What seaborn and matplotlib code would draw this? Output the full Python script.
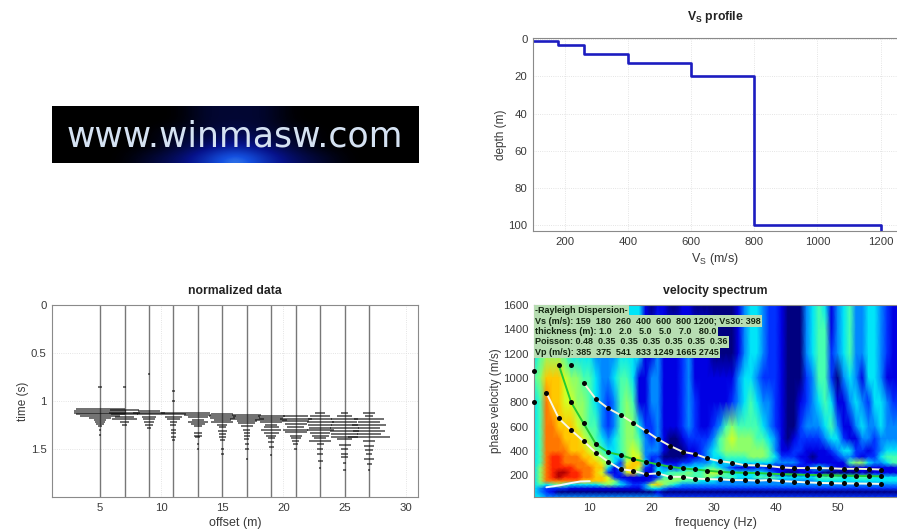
import numpy as np
import matplotlib
matplotlib.use("Agg")
import matplotlib.pyplot as plt
import seaborn as sns

# Vs profile
step_vs = [100, 180, 180, 260, 260, 400, 400, 600, 600, 800, 800, 1200, 1200]
step_depth = [1, 1, 3, 3, 8, 8, 13, 13, 20, 20, 100, 100, 103]

# seismic traces: offset, event times, event half amplitude
offsets = [5, 7, 9, 11, 13, 15, 17, 19, 21, 23, 25, 27]
trace_times = [
    [0.85, 1.08, 1.10, 1.12, 1.14, 1.16, 1.18, 1.20, 1.22, 1.24, 1.26, 1.30, 1.35],
    [0.85, 1.09, 1.12, 1.14, 1.17, 1.19, 1.22, 1.25],
    [0.72, 1.10, 1.12, 1.14, 1.17, 1.19, 1.22, 1.25, 1.28],
    [0.90, 1.00, 1.12, 1.14, 1.17, 1.19, 1.22, 1.25, 1.30, 1.33, 1.37, 1.41],
    [1.13, 1.15, 1.17, 1.20, 1.22, 1.24, 1.26, 1.33, 1.36, 1.38, 1.45, 1.50],
    [1.14, 1.16, 1.18, 1.20, 1.22, 1.25, 1.27, 1.31, 1.34, 1.37, 1.41, 1.50, 1.55],
    [1.15, 1.17, 1.19, 1.21, 1.23, 1.26, 1.30, 1.33, 1.36, 1.40, 1.45, 1.50, 1.60],
    [1.16, 1.18, 1.20, 1.22, 1.25, 1.27, 1.30, 1.33, 1.36, 1.39, 1.43, 1.48, 1.56],
    [1.16, 1.19, 1.21, 1.24, 1.27, 1.30, 1.32, 1.36, 1.39, 1.42, 1.45, 1.50],
    [1.13, 1.16, 1.19, 1.22, 1.25, 1.28, 1.30, 1.33, 1.36, 1.39, 1.42, 1.45, 1.50, 1.55, 1.62, 1.70],
    [1.13, 1.16, 1.19, 1.22, 1.25, 1.28, 1.31, 1.34, 1.37, 1.40, 1.46, 1.50, 1.55, 1.58, 1.65, 1.72],
    [1.13, 1.16, 1.19, 1.22, 1.25, 1.28, 1.31, 1.34, 1.38, 1.42, 1.47, 1.51, 1.55, 1.60, 1.66, 1.72],
]
trace_amps = [
    [0.15, 2.0, 2.1, 2.1, 2.0, 1.6, 0.9, 0.5, 0.4, 0.3, 0.15, 0.1, 0.08],
    [0.1, 1.2, 1.3, 1.1, 0.8, 1.0, 0.35, 0.2],
    [0.1, 0.9, 1.3, 1.0, 0.6, 0.5, 0.4, 0.35, 0.2],
    [0.1, 0.1, 1.0, 1.0, 0.7, 0.5, 0.3, 0.25, 0.2, 0.2, 0.2, 0.15],
    [1.0, 1.1, 0.8, 0.5, 0.8, 0.6, 0.3, 0.3, 0.35, 0.2, 0.1, 0.1],
    [0.9, 1.1, 1.0, 0.7, 0.9, 0.4, 0.3, 0.35, 0.3, 0.3, 0.2, 0.1, 0.1],
    [1.2, 1.1, 1.4, 0.8, 0.7, 0.5, 0.3, 0.25, 0.25, 0.2, 0.15, 0.15, 0.1],
    [1.1, 1.0, 1.3, 0.9, 0.5, 0.6, 0.8, 0.6, 0.4, 0.3, 0.25, 0.2, 0.1],
    [1.0, 1.3, 1.1, 0.9, 0.7, 1.0, 0.9, 0.5, 0.4, 0.3, 0.2, 0.1],
    [0.4, 0.8, 1.0, 1.1, 1.0, 0.9, 1.1, 0.8, 0.7, 0.5, 0.9, 0.3, 0.25, 0.25, 0.2, 0.1],
    [0.3, 0.6, 1.1, 1.0, 1.1, 1.2, 1.2, 1.1, 1.1, 0.6, 0.5, 0.3, 0.3, 0.3, 0.15, 0.1],
    [0.5, 0.3, 1.2, 0.9, 1.4, 0.9, 1.3, 1.0, 1.7, 0.5, 0.4, 0.3, 0.25, 0.4, 0.2, 0.1],
]

# velocity spectrum, read as jet levels 0-b, columns are 1 Hz apart
spec_velocity = [1600, 1400, 1200, 1000, 800, 600, 500, 400, 350, 300, 260, 220, 180, 150, 120, 90, 60, 20]
spec_rows = [
    "4455554444 3333444410 1100110000 0001344322 1000345413 4533443211",
    "4455554444 3333444411 2111111110 0001344322 1000345513 4533443211",
    "4566654444 3333444411 3111231110 0001344322 1000345523 4533443211",
    "5688876655 4334554113 3111231111 1113443222 1000235520 3431443111",
    "4598877665 4323565113 3111232111 1123454332 1001234541 1343244322",
    "4599888765 5323566422 3111232112 3565555432 1002333453 1134334333",
    "4599988876 5434566532 3100122223 5676665543 1012222344 2113323333",
    "4599998887 6544567633 3100011234 5666666653 1122111123 4422123444",
    "459aa99988 7654467732 2000011234 4555566654 2221101112 3321224555",
    "459aa99998 8764278841 3111223334 3444444443 3332111111 1566433455",
    "469aaaa999 8841388721 4332444455 4321112211 1111234321 1111111112",
    "469abbaa99 8721278511 4455565567 7544444432 1001111000 0001011111",
    "469abaaa99 8872111111 2556655565 4554445555 4444445555 4455544444",
    "4699999988 8876321112 6666555444 3333333333 3333334444 4444444444",
    "4545654444 4565432237 8654333333 3333333333 3333333333 3333333333",
    "4322221111 1111111134 4322222222 2222222222 2222222222 2222222222",
    "4321000000 0000000000 1000000000 0000000000 0000000000 0000000000",
    "4433333333 3333333333 3222222222 2222222222 2222222222 2222222222",
]

# picked points on the three modes
mode_a_freq = [1, 7, 9, 11, 13, 15, 17, 19, 21, 23, 25, 27, 29, 31, 33, 35, 37, 39, 41, 43, 45, 47, 49, 51, 53, 55, 57]
mode_a_vel = [1059, 1106, 960, 826, 749, 694, 631, 565, 497, 440, 392, 373, 337, 315, 302, 282, 280, 274, 263, 258, 258, 258, 256, 252, 252, 250, 246]
mode_b_freq = [5, 7, 9, 11, 13, 15, 17, 19, 21, 23, 25, 27, 29, 31, 33, 35, 37, 39, 41, 43, 45, 47, 49, 51, 53, 55, 57]
mode_b_vel = [1106, 799, 626, 455, 387, 365, 332, 310, 288, 269, 255, 247, 236, 227, 222, 219, 217, 212, 208, 205, 202, 200, 198, 196, 194, 192, 190]
mode_c_freq = [1, 3, 5, 7, 9, 11, 13, 15, 17, 19, 21, 23, 25, 27, 29, 31, 33, 35, 37, 39, 41, 43, 45, 47, 49, 51, 53, 55, 57]
mode_c_vel = [804, 878, 667, 570, 480, 384, 310, 249, 236, 208, 214, 186, 186, 172, 167, 165, 159, 159, 155, 159, 150, 146, 140, 136, 134, 132, 131, 130, 128]
fund_freq = [3, 5, 7, 8.5, 10]
fund_vel = [100, 115, 135, 148, 150]

info_lines = [
    "-Rayleigh Dispersion-",
    "Vs (m/s): 159  180  260  400  600  800 1200; Vs30: 398",
    "thickness (m): 1.0   2.0   5.0   5.0   7.0   80.0",
    "Poisson: 0.48  0.35  0.35  0.35  0.35  0.35  0.36",
    "Vp (m/s): 385  375  541  833 1249 1665 2745",
]

# glow at the bottom of the banner
logo_glow = [
    [0, 0, 0, 0, 0, 1, 1, 1, 0, 0, 0, 0, 0],
    [0, 0, 0, 0, 0, 1, 1, 1, 0, 0, 0, 0, 0],
    [0, 0, 0, 0, 1, 1, 2, 1, 1, 0, 0, 0, 0],
    [0, 0, 0, 0, 1, 2, 3, 2, 1, 0, 0, 0, 0],
    [0, 0, 0, 1, 2, 4, 7, 4, 2, 1, 0, 0, 0],
]

sns.set_theme(style="whitegrid")
plt.rcParams["font.family"] = ["Liberation Sans", "DejaVu Sans"]
plt.rcParams["mathtext.fontset"] = "custom"
plt.rcParams["mathtext.rm"] = "Liberation Sans"
plt.rcParams["mathtext.bf"] = "Liberation Sans:bold"

W, H = 897, 531
TEXT = "#3a3a3a"
GRID = "#dcdcdc"
SPINE = "#8a8a8a"


def px_axes(fig, left, top, right, bottom):
    return fig.add_axes([left / W, 1 - bottom / H, (right - left) / W, (bottom - top) / H])


def style(ax, title, xlabel, ylabel, title_pad, grid=True):
    ax.set_title(title, fontsize=8.8, fontweight="bold", color="#222222", pad=title_pad)
    ax.set_xlabel(xlabel, fontsize=9, color=TEXT, labelpad=3)
    ax.set_ylabel(ylabel, fontsize=8.5, color=TEXT, labelpad=1)
    ax.tick_params(labelsize=8.2, labelcolor=TEXT, length=2, width=0.6, color=SPINE, direction="in", pad=4)
    ax.grid(grid, color=GRID, lw=0.6, ls=":" if grid else "-")
    for s in ax.spines.values():
        s.set_color(SPINE)
        s.set_linewidth(0.8)


fig = plt.figure(figsize=(W / 100, H / 100), dpi=100, facecolor="white")

# banner
ax_logo = px_axes(fig, 52, 106, 418, 163)
ax_logo.imshow(logo_glow, cmap=sns.blend_palette(["#000000", "#06128a", "#1450e0", "#7fd8ff"], as_cmap=True),
               aspect="auto", interpolation="bicubic", vmin=0, vmax=8)
ax_logo.grid(False)
ax_logo.set_xticks([])
ax_logo.set_yticks([])
for s in ax_logo.spines.values():
    s.set_visible(False)
ax_logo.text(0.5, 0.47, "www.winmasw.com", transform=ax_logo.transAxes, ha="center", va="center",
             fontsize=25, family="DejaVu Sans", color="#d5e2f2")

# Vs profile
ax_vs = px_axes(fig, 533, 38, 897, 231)
sns.lineplot(x=step_vs, y=step_depth, sort=False, estimator=None, color="#1c1cc0", lw=1.9, ax=ax_vs)
ax_vs.set_xlim(100, 1252)
ax_vs.set_ylim(103, -0.5)
ax_vs.set_xticks([200, 400, 600, 800, 1000, 1200])
ax_vs.set_yticks([0, 20, 40, 60, 80, 100])
style(ax_vs, r"$\mathbf{V_S}$ profile", r"V$_{\mathrm{S}}$ (m/s)", "depth (m)", 13)
ax_vs.spines["right"].set_visible(False)

# normalized data
ax_tr = px_axes(fig, 52, 305, 418, 497)
for off, t, a in zip(offsets, trace_times, trace_amps):
    ax_tr.axvline(off, color="#777777", lw=1.0, zorder=2)
    ax_tr.hlines(t, off - np.array(a), off + np.array(a), color="#111111", lw=1.3, alpha=0.65, zorder=3)
ax_tr.set_xlim(1.07, 31)
ax_tr.set_ylim(2, 0)
ax_tr.set_xticks([5, 10, 15, 20, 25, 30])
ax_tr.set_yticks([0, 0.5, 1, 1.5])
ax_tr.set_yticklabels(["0", "0.5", "1", "1.5"])
style(ax_tr, "normalized data", "offset (m)", "time (s)", 8)

# velocity spectrum
ax_sp = px_axes(fig, 534, 305, 897, 497)
spec_freq = np.arange(1, 61)
levels = [[int(c, 16) for c in r.replace(" ", "")] for r in spec_rows]
ax_sp.pcolormesh(spec_freq, spec_velocity, np.array(levels), shading="gouraud", cmap="jet", vmin=0, vmax=11.5)
for fq, vel, col in [(mode_a_freq[2:], mode_a_vel[2:], "#f4f4d8"),
                     (mode_b_freq, mode_b_vel, "#22cc33"),
                     (mode_c_freq[1:], mode_c_vel[1:], "#f8f8e8"),
                     (fund_freq, fund_vel, "#f0f8ff")]:
    sns.lineplot(x=fq, y=vel, sort=False, estimator=None, color=col, lw=1.4, ax=ax_sp, zorder=3)
for fq, vel in [(mode_a_freq, mode_a_vel), (mode_b_freq, mode_b_vel), (mode_c_freq, mode_c_vel)]:
    sns.scatterplot(x=fq, y=vel, color="#050505", s=13, linewidth=0, ax=ax_sp, zorder=4, clip_on=False)
ax_sp.set_xlim(1, 59.6)
ax_sp.set_ylim(20, 1600)
ax_sp.set_xticks([10, 20, 30, 40, 50])
ax_sp.set_yticks([200, 400, 600, 800, 1000, 1200, 1400, 1600])
style(ax_sp, "velocity spectrum", "frequency (Hz)", "phase velocity (m/s)", 8, grid=False)
ax_sp.spines["right"].set_visible(False)
for i, line in enumerate(info_lines):
    ax_sp.text(0.003, 1 - (5.5 + 10.5 * i) / 192, line, transform=ax_sp.transAxes, fontsize=6.5,
               fontweight="bold", color="#12240f", va="center", ha="left", zorder=6 - i * 0.1,
               bbox=dict(facecolor="#b7ddb2", edgecolor="none", pad=0.9))

fig.savefig("out.png", dpi=100)
